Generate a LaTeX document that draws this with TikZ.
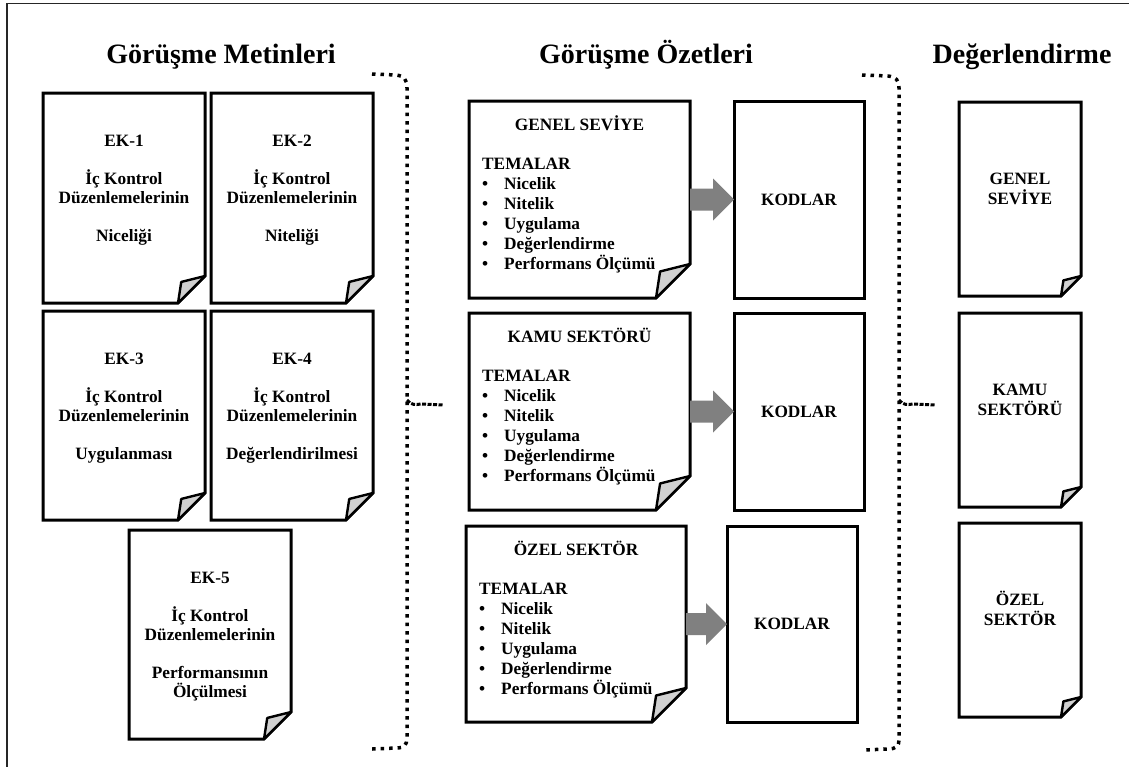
\documentclass[tikz,border=0pt]{standalone}
\usepackage{fontspec}
\setmainfont{Liberation Serif}
\usetikzlibrary{calc}

% strut that fixes the top of the first text line
\newcommand\firststrut{\rule{0pt}{16pt}}
\newcommand\bul{\makebox[22pt][l]{\textbullet}}

% folded-corner page drawn around an (invisible) named node
\newcommand\foldpage[2]{%
  \draw[pageline] (#1.north west) -- (#1.north east)
    -- ([yshift=#2]#1.south east) -- ([xshift=-#2]#1.south east)
    -- (#1.south west) -- cycle;
  \filldraw[flap] ([yshift=#2]#1.south east)
    -- ([xshift=-0.88*#2, yshift=0.78*#2]#1.south east)
    -- ([xshift=-#2]#1.south east) -- cycle;
}

% grey block arrow from one page to the next
\newcommand\blockarrow[2]{%
  \fill[arrowfill] let \p1=(#1.east), \p2=(#2.west), \n1={\x2-21pt} in
    (\x1,\y1+11pt) -- (\n1,\y1+11pt) -- (\n1,\y1+21pt) -- (\x2,\y1)
    -- (\n1,\y1-21pt) -- (\n1,\y1-11pt) -- (\x1,\y1-11pt) -- cycle;
}

\begin{document}
\begin{tikzpicture}[x=1pt,y=-1pt,
  pagebox/.style={draw=none, inner sep=0, outer sep=0},
  pageline/.style={line width=3pt, line join=miter, fill=white},
  flap/.style={line width=2.4pt, line join=round, fill=black!18},
  codebox/.style={draw, line width=3pt, fill=white, inner sep=0, outer sep=0,
    font=\bfseries\fontsize{17.3}{19}\selectfont},
  doctext/.style={inner sep=0, align=center, anchor=north,
    font=\bfseries\fontsize{17.3}{19}\selectfont},
  listtext/.style={inner sep=0, align=left, anchor=north west,
    font=\bfseries\fontsize{17.3}{20}\selectfont},
  sidetext/.style={inner sep=0, align=center, anchor=north,
    font=\bfseries\fontsize{17.3}{20}\selectfont},
  heading/.style={inner sep=0, anchor=base, font=\bfseries\fontsize{28}{32}\selectfont},
  arrowfill/.style={fill=black!50},
  dotline/.style={line width=3.5pt, dash pattern=on 3.5pt off 5pt},
  tipline/.style={line width=3pt, dash pattern=on 4pt off 1.5pt},
]
\useasboundingbox (0,0) rectangle (1129,766);
\begin{scope}
  \clip (0,0) rectangle (1129,766);
  \draw[line width=1.6pt, black!85] (7,3.5) rectangle (1140,780);
\end{scope}

% headings
\node[heading] (h1) at (221,63) {Görüşme Metinleri};
\node[heading] (h2) at (646,63) {Görüşme Özetleri};
\node[heading] (h3) at (1022,63) {Değerlendirme};

% interview transcripts
\node[pagebox, minimum width=162pt, minimum height=210pt] (ek1) at (124,198) {};
\node[pagebox, minimum width=162pt, minimum height=210pt] (ek2) at (292,198) {};
\node[pagebox, minimum width=162pt, minimum height=209pt] (ek3) at (124,415.5) {};
\node[pagebox, minimum width=162pt, minimum height=209pt] (ek4) at (292,415.5) {};
\node[pagebox, minimum width=162pt, minimum height=209pt] (ek5) at (210,634.5) {};
\foreach \p in {ek1,ek2,ek3,ek4,ek5} {\foldpage{\p}{27pt}}

\node[doctext] (ek1t) at ([yshift=-37pt]ek1.north)
  {\firststrut EK-1\\[19pt]İç Kontrol\\Düzenlemelerinin\\[19pt]Niceliği};
\node[doctext] (ek2t) at ([yshift=-37pt]ek2.north)
  {\firststrut EK-2\\[19pt]İç Kontrol\\Düzenlemelerinin\\[19pt]Niteliği};
\node[doctext] (ek3t) at ([yshift=-37pt]ek3.north)
  {\firststrut EK-3\\[19pt]İç Kontrol\\Düzenlemelerinin\\[19pt]Uygulanması};
\node[doctext] (ek4t) at ([yshift=-37pt]ek4.north)
  {\firststrut EK-4\\[19pt]İç Kontrol\\Düzenlemelerinin\\[19pt]Değerlendirilmesi};
\node[doctext] (ek5t) at ([yshift=-37pt]ek5.north)
  {\firststrut EK-5\\[19pt]İç Kontrol\\Düzenlemelerinin\\[19pt]Performansının\\Ölçülmesi};

% interview summaries
\node[pagebox, minimum width=221pt, minimum height=197pt] (sum1) at (579.5,199.5) {};
\node[pagebox, minimum width=221pt, minimum height=197pt] (sum2) at (579.5,411.5) {};
\node[pagebox, minimum width=220pt, minimum height=196pt] (sum3) at (576,624) {};
\foreach \p in {sum1,sum2,sum3} {\foldpage{\p}{34pt}}

\node[doctext] (sum1h) at ([yshift=-13pt]sum1.north) {\firststrut GENEL SEVİYE};
\node[doctext] (sum2h) at ([yshift=-13pt]sum2.north) {\firststrut KAMU SEKTÖRÜ};
\node[doctext] (sum3h) at ([yshift=-13pt]sum3.north) {\firststrut ÖZEL SEKTÖR};
\foreach \p in {sum1,sum2,sum3} {
  \node[listtext] (\p l) at ([xshift=13pt,yshift=-52pt]\p.north west)
    {\firststrut TEMALAR\\\bul Nicelik\\\bul Nitelik\\\bul Uygulama\\\bul Değerlendirme\\\bul Performans Ölçümü};
}

% codes
\node[codebox, minimum width=130pt, minimum height=197pt] (kod1) at (799,199.5) {KODLAR};
\node[codebox, minimum width=130pt, minimum height=197pt] (kod2) at (799,411.5) {KODLAR};
\node[codebox, minimum width=130pt, minimum height=196pt] (kod3) at (792,624) {KODLAR};

\blockarrow{sum1}{kod1}
\blockarrow{sum2}{kod2}
\blockarrow{sum3}{kod3}

% evaluation
\node[pagebox, minimum width=122pt, minimum height=194pt] (ev1) at (1020,199) {};
\node[pagebox, minimum width=122pt, minimum height=194pt] (ev2) at (1020,410) {};
\node[pagebox, minimum width=122pt, minimum height=194pt] (ev3) at (1020,620) {};
\foreach \p in {ev1,ev2,ev3} {\foldpage{\p}{20pt}}
\node[sidetext] (ev1t) at ([yshift=-66pt]ev1.north) {\firststrut GENEL\\SEVİYE};
\node[sidetext] (ev2t) at ([yshift=-66pt]ev2.north) {\firststrut KAMU\\SEKTÖRÜ};
\node[sidetext] (ev3t) at ([yshift=-66pt]ev3.north) {\firststrut ÖZEL\\SEKTÖR};

% dotted brackets
\coordinate (b1tip) at (443,405);
\coordinate (b2tip) at (935,405);
\draw[dotline] (372,74) -- (396,75) .. controls (404,76) and (407,79) .. (407,88)
  -- (407,738) .. controls (407,745) and (404,748) .. (396,748) -- (372,749);
\draw[tipline] (407,400) .. controls (411,405) and (415,405) .. (421,404) -- (b1tip);
\draw[dotline] (862,75) -- (888,76) .. controls (896,77) and (899,80) .. (899,88)
  -- (899,740) .. controls (899,746) and (896,749) .. (888,749) -- (863,750);
\draw[tipline] (899,400) .. controls (903,405) and (907,405) .. (913,404) -- (b2tip);
\end{tikzpicture}
\end{document}
